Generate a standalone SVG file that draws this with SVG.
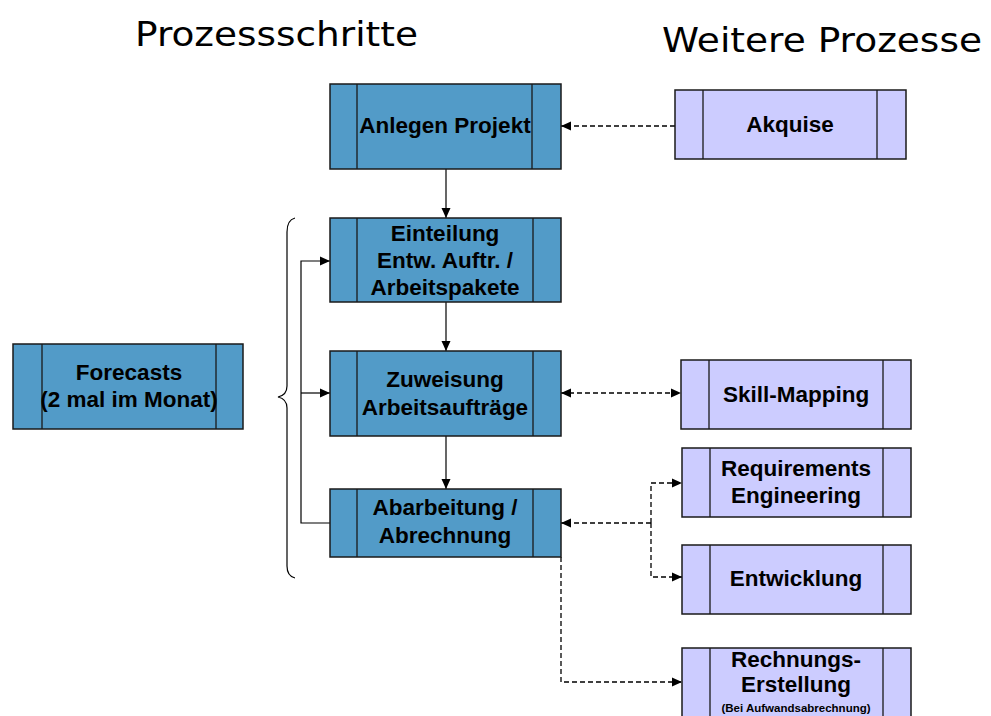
<svg xmlns="http://www.w3.org/2000/svg" width="991" height="716" viewBox="0 0 991 716">
<defs>
<style>
.b{fill:#529BC8;stroke:#1a1a1a;stroke-width:1.5}
.l{fill:#CCCCFF;stroke:#1a1a1a;stroke-width:1.5}
.in{stroke:#1a1a1a;stroke-width:1.3}
.t{font-family:"Liberation Sans",Arial,sans-serif;font-weight:bold;font-size:22.5px;fill:#000;text-anchor:middle}
.h{font-family:"DejaVu Sans","Liberation Sans",sans-serif;font-size:34px;fill:#000}
.s{fill:none;stroke:#000;stroke-width:1.2}
.d{fill:none;stroke:#000;stroke-width:1.3;stroke-dasharray:5,3}
</style>
<marker id="a" viewBox="0 0 10 10" refX="10" refY="5" markerWidth="10" markerHeight="10" markerUnits="userSpaceOnUse" orient="auto-start-reverse">
<path d="M0,0.5 L10,5 L0,9.5 z" fill="#000"/>
</marker>
</defs>
<rect width="991" height="716" fill="#fff"/>
<text class="h" x="135" y="46" textLength="283" lengthAdjust="spacingAndGlyphs">Prozessschritte</text>
<text class="h" x="662" y="52" textLength="320" lengthAdjust="spacingAndGlyphs">Weitere Prozesse</text>

<g id="connectors">
<path class="s" d="M446,169 V218" marker-end="url(#a)"/>
<path class="s" d="M446,302 V351" marker-end="url(#a)"/>
<path class="s" d="M446,436 V489" marker-end="url(#a)"/>
<path class="s" d="M330,523 H301 V261 H330" marker-end="url(#a)"/>
<path class="s" d="M301,393 H330" marker-end="url(#a)"/>
<path class="s" d="M295,218 Q287,220 287,232 V386 Q287,395 278,397 Q287,399 287,408 V566 Q287,576 295,578"/>
<path class="d" d="M675,126 H561" marker-end="url(#a)"/>
<path class="d" d="M561,393 H681" marker-start="url(#a)" marker-end="url(#a)"/>
<path class="d" d="M651,523 H561" marker-end="url(#a)"/>
<path class="d" d="M651,523 V483 H682" marker-end="url(#a)"/>
<path class="d" d="M651,523 V577 H682" marker-end="url(#a)"/>
<path class="d" d="M561,557 V682 H682" marker-end="url(#a)"/>
</g>

<g id="anlegen">
<rect class="b" x="330" y="84" width="231" height="85"/>
<path class="in" d="M357,84 V169 M532,84 V169"/>
<text class="t" x="445" y="133">Anlegen Projekt</text>
</g>
<g id="einteilung">
<rect class="b" x="330" y="218" width="231" height="84"/>
<path class="in" d="M357,218 V302 M533,218 V302"/>
<text class="t" x="445" y="241">Einteilung</text>
<text class="t" x="445" y="268">Entw. Auftr. /</text>
<text class="t" x="445" y="295">Arbeitspakete</text>
</g>
<g id="zuweisung">
<rect class="b" x="330" y="351" width="231" height="85"/>
<path class="in" d="M357,351 V436 M533,351 V436"/>
<text class="t" x="445" y="387">Zuweisung</text>
<text class="t" x="445" y="415">Arbeitsaufträge</text>
</g>
<g id="abarbeitung">
<rect class="b" x="330" y="489" width="231" height="68"/>
<path class="in" d="M357,489 V557 M533,489 V557"/>
<text class="t" x="445" y="515">Abarbeitung /</text>
<text class="t" x="445" y="543">Abrechnung</text>
</g>
<g id="forecasts">
<rect class="b" x="13" y="344" width="230" height="85"/>
<path class="in" d="M42,344 V429 M216,344 V429"/>
<text class="t" x="129" y="380">Forecasts</text>
<text class="t" x="129" y="407">(2 mal im Monat)</text>
</g>
<g id="akquise">
<rect class="l" x="675" y="90" width="231" height="69"/>
<path class="in" d="M703,90 V159 M877,90 V159"/>
<text class="t" x="790" y="132">Akquise</text>
</g>
<g id="skill">
<rect class="l" x="681" y="360" width="230" height="69"/>
<path class="in" d="M709,360 V429 M883,360 V429"/>
<text class="t" x="796" y="402">Skill-Mapping</text>
</g>
<g id="requirements">
<rect class="l" x="682" y="448" width="229" height="69"/>
<path class="in" d="M710,448 V517 M883,448 V517"/>
<text class="t" x="796" y="476">Requirements</text>
<text class="t" x="796" y="503">Engineering</text>
</g>
<g id="entwicklung">
<rect class="l" x="682" y="545" width="229" height="69"/>
<path class="in" d="M710,545 V614 M883,545 V614"/>
<text class="t" x="796" y="586">Entwicklung</text>
</g>
<g id="rechnung">
<rect class="l" x="682" y="648" width="229" height="80"/>
<path class="in" d="M710,648 V728 M883,648 V728"/>
<text class="t" x="796" y="667">Rechnungs-</text>
<text class="t" x="796" y="692">Erstellung</text>
<text class="t" x="796" y="712" style="font-size:11.5px">(Bei Aufwandsabrechnung)</text>
</g>
</svg>
